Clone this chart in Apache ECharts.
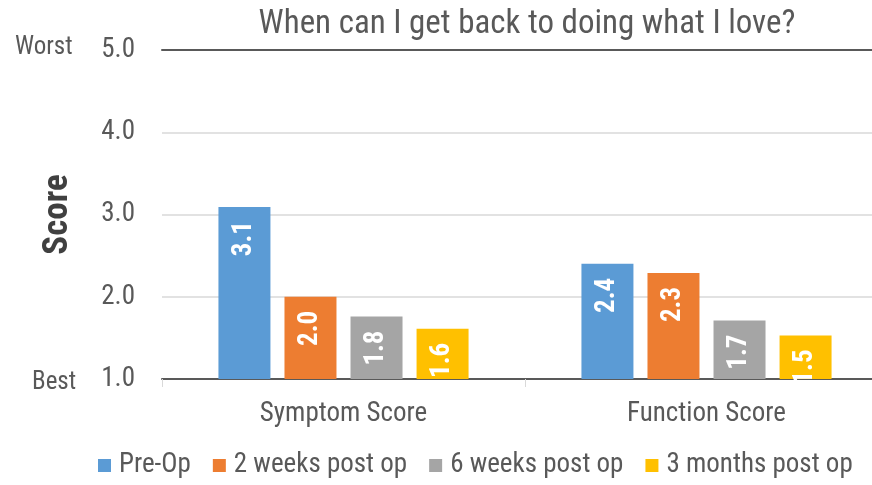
<!DOCTYPE html>
<html>
<head>
<meta charset="utf-8">
<script src="https://cdn.jsdelivr.net/npm/echarts@6/dist/echarts.min.js"></script>
<style>
  html, body { margin: 0; padding: 0; background: #fff; }
  #main { width: 872px; height: 485px; }
</style>
</head>
<body>
<div id="main"></div>
<script>
// data
var categories = ['Symptom Score', 'Function Score'];
var seriesNames = ['Pre-Op', '2 weeks post op', '6 weeks post op', '3 months post op'];
var preOp = [3.09, 2.4];
var weeks2 = [2.0, 2.29];
var weeks6 = [1.76, 1.71];
var months3 = [1.61, 1.53];
var colors = ['#5b9bd5', '#ed7d31', '#a5a5a5', '#ffc000'];

var font = 'Roboto Condensed, Roboto, sans-serif';
var textColor = '#595959';

var chartDom = document.getElementById('main');
var myChart = echarts.init(chartDom);

function makeSeries(name, data, i) {
  return {
    name: name,
    type: 'bar',
    data: data,
    xAxisIndex: 0,
    barWidth: 52,
    barGap: '27%',
    itemStyle: { color: colors[i] },
    label: {
      show: true,
      position: 'insideTop',
      rotate: 90,
      align: 'right',
      verticalAlign: 'middle',
      distance: 14,
      color: '#fff',
      fontWeight: 'bold',
      fontSize: 27,
      fontFamily: font,
      formatter: function (p) { return p.value.toFixed(1); }
    }
  };
}

var option = {
  animation: false,
  title: {
    text: 'When can I get back to doing what I love?',
    left: 522,
    textAlign: 'center',
    top: 3,
    textStyle: { color: textColor, fontSize: 33, fontWeight: 'normal', fontFamily: font }
  },
  legend: {
    bottom: 1,
    left: 93,
    itemWidth: 13,
    itemHeight: 13,
    itemGap: 22,
    icon: 'rect',
    textStyle: { color: textColor, fontSize: 27, fontFamily: font, padding: [0, 0, 0, 3] },
    data: seriesNames
  },
  grid: { left: 162, width: 726, top: 50, bottom: 106, outerBoundsMode: 'none', containLabel: false },
  xAxis: [
    {
      type: 'category',
      data: categories,
      axisLine: { lineStyle: { color: '#595959', width: 2 } },
      axisTick: { show: true, length: 8, lineStyle: { color: '#d9d9d9' } },
      axisLabel: { color: textColor, fontSize: 27, fontFamily: font, margin: 22 }
    },
    {
      type: 'category',
      position: 'top',
      data: categories,
      axisLine: { lineStyle: { color: '#595959', width: 2 } },
      axisTick: { show: false },
      axisLabel: { show: false }
    }
  ],
  yAxis: {
    type: 'value',
    min: 1,
    max: 5,
    interval: 1,
    name: 'Score',
    nameLocation: 'middle',
    nameGap: 86,
    nameTextStyle: { color: '#404040', fontSize: 35, fontWeight: 'bold', fontFamily: font },
    axisLabel: {
      color: textColor,
      fontSize: 27,
      fontFamily: font,
      margin: 27,
      formatter: function (v) { return v.toFixed(1); }
    },
    splitLine: { lineStyle: { color: '#d9d9d9', width: 1.5 } }
  },
  graphic: [
    {
      type: 'text',
      left: 15,
      top: 35,
      style: { text: 'Worst', fill: textColor, fontSize: 25, fontFamily: font }
    },
    {
      type: 'text',
      left: 32,
      top: 370,
      style: { text: 'Best', fill: textColor, fontSize: 25, fontFamily: font }
    }
  ],
  series: [
    makeSeries(seriesNames[0], preOp, 0),
    makeSeries(seriesNames[1], weeks2, 1),
    makeSeries(seriesNames[2], weeks6, 2),
    makeSeries(seriesNames[3], months3, 3)
  ]
};

option && myChart.setOption(option);
</script>
</body>
</html>
